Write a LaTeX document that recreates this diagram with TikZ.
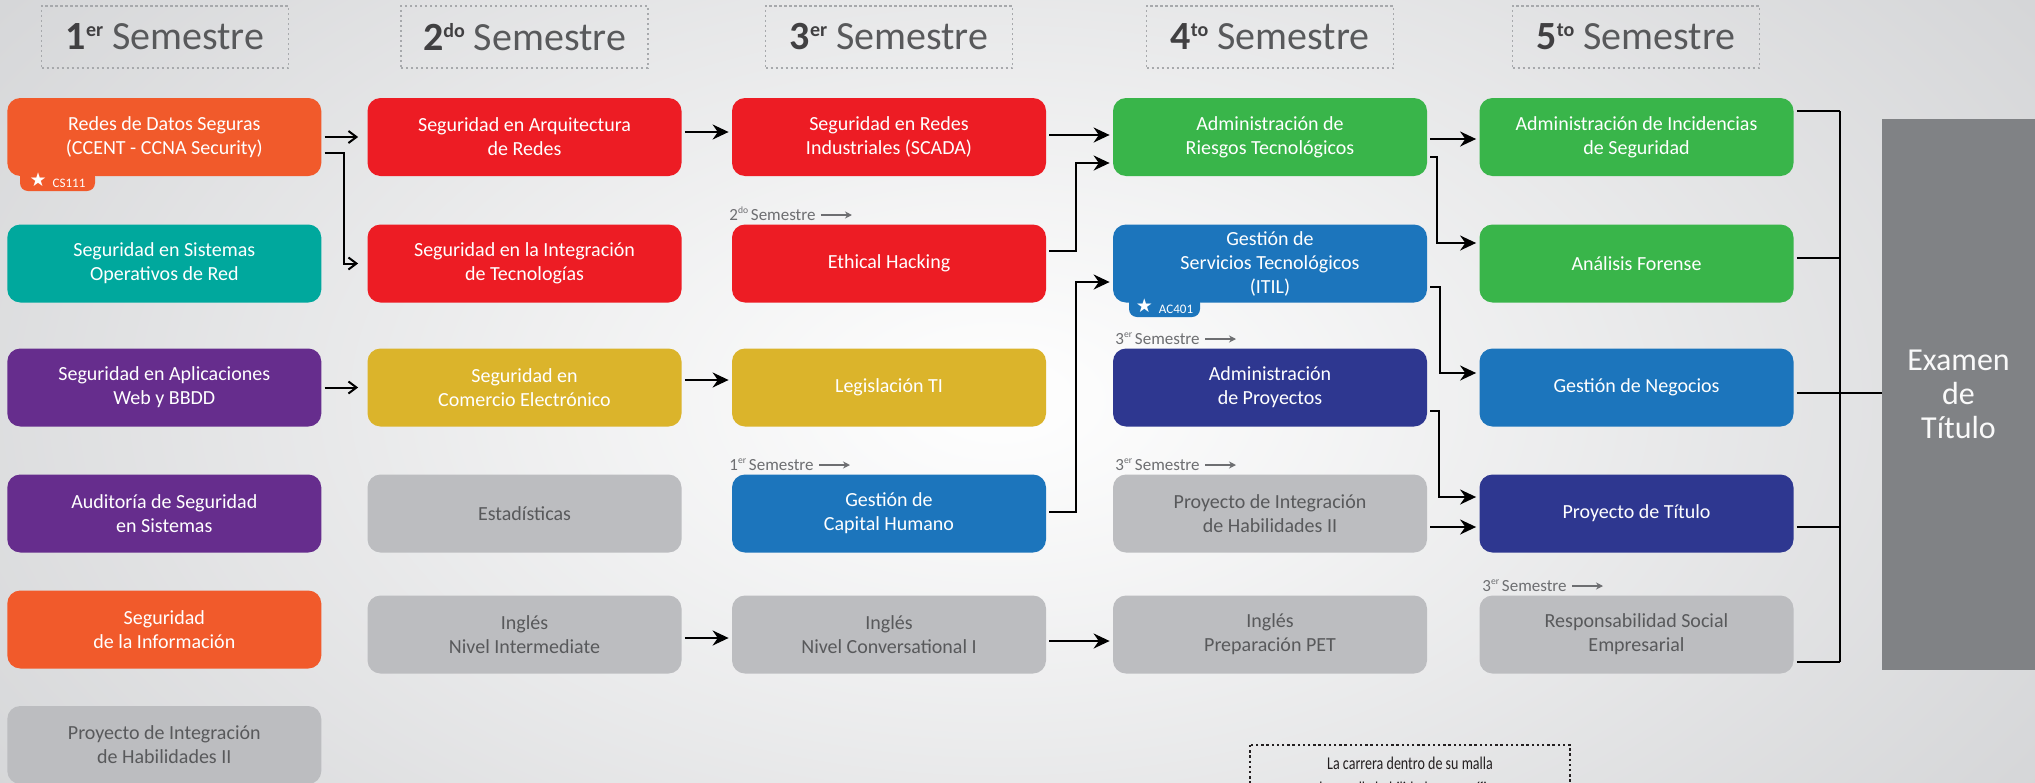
\documentclass[tikz,border=0pt]{standalone}
\usepackage{fontspec}
\setmainfont{Carlito}
\newfontfamily\dejavu{DejaVu Sans}
\newfontfamily\condfont[FakeStretch=0.78]{Carlito}
\usetikzlibrary{arrows.meta,calc}
\definecolor{bgout}{HTML}{D3D4D6}
\definecolor{corange}{HTML}{F15A2B}
\definecolor{cteal}{HTML}{00A89D}
\definecolor{cred}{HTML}{ED1C24}
\definecolor{cpurple}{HTML}{662D8D}
\definecolor{cgold}{HTML}{DBB42B}
\definecolor{cgray}{HTML}{BCBDC0}
\definecolor{cgreen}{HTML}{39B54A}
\definecolor{cblue}{HTML}{1C75BC}
\definecolor{cnavy}{HTML}{2E3790}
\definecolor{cexam}{HTML}{808285}
\definecolor{txtgray}{HTML}{58595B}
\definecolor{hdnum}{HTML}{414042}
\definecolor{dotgray}{HTML}{A7A9AC}
\definecolor{labgray}{HTML}{6D6E71}
\definecolor{notecol}{HTML}{231F20}
\newcommand\hsup[1]{\raisebox{6.5pt}{\fontsize{10}{10}\selectfont\bfseries #1}}
\newcommand\lsup[1]{\raisebox{3.6pt}{\fontsize{4.8}{5}\selectfont #1}}
\newcommand\hdr[2]{{\color{hdnum}\bfseries #1\hsup{#2}} {\color{txtgray}Semestre}}
\newcommand\starmark{\raisebox{0.6pt}{\dejavu\fontsize{9.5}{10}\selectfont ★}}
\begin{document}
\begin{tikzpicture}[x=0.5pt,y=-0.5pt,
  course/.style={rounded corners=6.5pt, minimum width=157pt, minimum height=39pt, inner sep=0pt, align=center, font=\fontsize{10}{12}\selectfont, text=white},
  greycourse/.style={course, fill=cgray, text=txtgray},
  hdrbox/.style={draw=dotgray, line width=0.7pt, dash pattern=on 1.1pt off 1.4pt, minimum width=123.5pt, minimum height=31pt, inner sep=0pt, font=\fontsize{20}{24}\selectfont},
  tagbox/.style={rounded corners=4pt, minimum width=37.5pt, minimum height=11pt, inner sep=0pt, text=white, font=\fontsize{6.5}{7}\selectfont},
  lab/.style={anchor=base west, inner sep=0pt, text=labgray, font=\fontsize{8.5}{10}\selectfont},
  labarr/.style={draw=labgray, line width=0.6pt, -{Stealth[length=3.5pt,width=3.5pt]}},
  link/.style={draw=black, line width=1pt},
  arr/.style={link, shorten <=1.5pt, shorten >=1.5pt, -{Stealth[length=8pt,width=7.5pt]}},
  arrs/.style={link, shorten <=1.5pt, shorten >=4.5pt, -{Straight Barb[length=4pt,width=6pt]}},
  notetext/.style={anchor=base, inner sep=0pt, text=notecol, font=\condfont\fontsize{9}{11}\selectfont},
]
\useasboundingbox (0,0) rectangle (2035,782);
% background
\fill[bgout] (0,0) rectangle (2035,782);
\begin{scope}
  \clip (0,0) rectangle (2035,782);
  \shade[inner color=white, outer color=bgout] (-300,-350) rectangle (2300,1150);
\end{scope}

% headers
\node[hdrbox] (h1) at (165,37) {\hdr{1}{er}};
\node[hdrbox] (h2) at (524.5,37) {\hdr{2}{do}};
\node[hdrbox] (h3) at (889,37) {\hdr{3}{er}};
\node[hdrbox] (h4) at (1270,37) {\hdr{4}{to}};
\node[hdrbox] (h5) at (1636,37) {\hdr{5}{to}};

% column 1
\node[course, fill=corange] (a1) at (164.3,137) {Redes de Datos Seguras\\(CCENT - CCNA Security)};
\node[tagbox, fill=corange] (t1) at (57.5,180) {\starmark\hspace{3pt}CS111};
\node[course, fill=cteal] (a2) at (164.3,263.5) {Seguridad en Sistemas\\Operativos de Red};
\node[course, fill=cpurple] (a3) at (164.3,387.5) {Seguridad en Aplicaciones\\Web y BBDD};
\node[course, fill=cpurple] (a4) at (164.3,513.5) {Auditoría de Seguridad\\en Sistemas};
\node[course, fill=corange] (a5) at (164.3,629.5) {Seguridad\\de la Información};
\node[greycourse] (a6) at (164.3,745) {Proyecto de Integración\\de Habilidades II};

% column 2
\node[course, fill=cred] (b1) at (524.5,137) {Seguridad en Arquitectura\\de Redes};
\node[course, fill=cred] (b2) at (524.5,263.5) {Seguridad en la Integración\\de Tecnologías};
\node[course, fill=cgold] (b3) at (524.5,387.5) {Seguridad en\\Comercio Electrónico};
\node[greycourse] (b4) at (524.5,513.5) {Estadísticas};
\node[greycourse] (b5) at (524.5,634.5) {Inglés\\Nivel Intermediate};

% column 3
\node[course, fill=cred] (c1) at (889,137) {Seguridad en Redes\\Industriales (SCADA)};
\node[course, fill=cred] (c2) at (889,263.5) {Ethical Hacking};
\node[course, fill=cgold] (c3) at (889,387.5) {Legislación TI};
\node[course, fill=cblue] (c4) at (889,513.5) {Gestión de\\Capital Humano};
\node[greycourse] (c5) at (889,634.5) {Inglés\\Nivel Conversational I};

% column 4
\node[course, fill=cgreen] (d1) at (1270,137) {Administración de\\Riesgos Tecnológicos};
\node[course, fill=cblue] (d2) at (1270,263.5) {Gestión de\\Servicios Tecnológicos\\(ITIL)};
\node[tagbox, fill=cblue, minimum width=35.5pt] (t2) at (1164.5,306) {\starmark\hspace{3pt}AC401};
\node[course, fill=cnavy] (d3) at (1270,387.5) {Administración\\de Proyectos};
\node[greycourse] (d4) at (1270,513.5) {Proyecto de Integración\\de Habilidades II};
\node[greycourse] (d5) at (1270,634.5) {Inglés\\Preparación PET};

% column 5
\node[course, fill=cgreen] (e1) at (1636.5,137) {Administración de Incidencias\\de Seguridad};
\node[course, fill=cgreen] (e2) at (1636.5,263.5) {Análisis Forense};
\node[course, fill=cblue] (e3) at (1636.5,387.5) {Gestión de Negocios};
\node[course, fill=cnavy] (e4) at (1636.5,513.5) {Proyecto de Título};
\node[greycourse] (e5) at (1636.5,634.5) {Responsabilidad Social\\Empresarial};

% examen
\node[fill=cexam, minimum width=76.5pt, minimum height=275.5pt, inner sep=0pt, align=center, text=white!95!gray, font=\fontsize{16}{17}\selectfont] (ex) at (1958.5,394.5) {Examen\\de\\Título};

% semester labels
\node[lab] (l1) at (729,220.5) {2\lsup{do}\,Semestre};
\draw[labarr] ($(l1.base east)+(5,-5.5)$) -- ++(31,0);
\node[lab] (l2) at (729,470.5) {1\lsup{er}\,Semestre};
\draw[labarr] ($(l2.base east)+(5,-5.5)$) -- ++(31,0);
\node[lab] (l3) at (1115,344.5) {3\lsup{er}\,Semestre};
\draw[labarr] ($(l3.base east)+(5,-5.5)$) -- ++(31,0);
\node[lab] (l4) at (1115,470.5) {3\lsup{er}\,Semestre};
\draw[labarr] ($(l4.base east)+(5,-5.5)$) -- ++(31,0);
\node[lab] (l5) at (1482,591.5) {3\lsup{er}\,Semestre};
\draw[labarr] ($(l5.base east)+(5,-5.5)$) -- ++(31,0);

% connector helper x positions
\coordinate (m1) at (344,0);
\coordinate (m3) at (1076,0);
\coordinate (m4a) at (1437,0);
\coordinate (m4b) at (1440,0);
\coordinate (m4c) at (1439,0);
\coordinate (bx) at (1840,0);

% col1 -> col2
\draw[arrs] (a1.east) -- (b1.west);
\coordinate (p1) at ($(a1.east)+(0,16)$);
\draw[arrs] (p1) -- (p1 -| m1) |- (b2.west);
\draw[arrs] (a3.east) -- (b3.west);

% col2 -> col3
\draw[arr] ($(b1.east)+(0,-5)$) -- ($(c1.west)+(0,-5)$);
\draw[arr] ($(b3.east)+(0,-7.5)$) -- ($(c3.west)+(0,-7.5)$);
\draw[arr] ($(b5.east)+(0,3.5)$) -- ($(c5.west)+(0,3.5)$);

% col3 -> col4
\draw[arr] ($(c1.east)+(0,-2)$) -- ($(d1.west)+(0,-2)$);
\coordinate (p8) at ($(c2.east)+(0,-13)$);
\coordinate (q8) at ($(d1.west)+(0,26)$);
\draw[arr] (p8) -- (p8 -| m3) |- (q8);
\coordinate (p9) at ($(c4.east)+(0,-1.5)$);
\coordinate (q9) at ($(d2.west)+(0,18.5)$);
\draw[arr] (p9) -- (p9 -| m3) |- (q9);
\draw[arr] ($(c5.east)+(0,6.5)$) -- ($(d5.west)+(0,6.5)$);

% col4 -> col5
\draw[arr] ($(d1.east)+(0,2)$) -- ($(e1.west)+(0,2)$);
\coordinate (p12) at ($(d1.east)+(0,20)$);
\coordinate (q12) at ($(e2.west)+(0,-20.5)$);
\draw[arr] (p12) -- (p12 -| m4a) |- (q12);
\coordinate (p13) at ($(d2.east)+(0,23.5)$);
\coordinate (q13) at ($(e3.west)+(0,-14.5)$);
\draw[arr] (p13) -- (p13 -| m4b) |- (q13);
\coordinate (p14) at ($(d3.east)+(0,23.5)$);
\coordinate (q14) at ($(e4.west)+(0,-16.5)$);
\draw[arr] (p14) -- (p14 -| m4c) |- (q14);
\coordinate (p15) at ($(d4.east)+(0,13.5)$);
\draw[arr] (p15) -- (p15 -| e4.west);

% bracket to examen
\coordinate (k1) at ($(e1.east)+(0,-26)$);
\coordinate (k2) at ($(e2.east)+(0,-5.5)$);
\coordinate (k3) at ($(e3.east)+(0,5.5)$);
\coordinate (k4) at ($(e4.east)+(0,13.5)$);
\coordinate (k5) at ($(e5.east)+(0,27.5)$);
\draw[link, shorten <=1.5pt] (k1) -- (k1 -| bx);
\draw[link, shorten <=1.5pt] (k2) -- (k2 -| bx);
\draw[link, shorten <=1.5pt] (k3) -- (k3 -| ex.west);
\draw[link, shorten <=1.5pt] (k4) -- (k4 -| bx);
\draw[link, shorten <=1.5pt] (k5) -- (k5 -| bx);
\draw[link] (k1 -| bx) -- (k5 -| bx);

% note
\draw[draw=notecol, line width=0.7pt, dash pattern=on 1.2pt off 1.4pt] (1250,745) rectangle (1570,840);
\node[notetext] (n1) at (1410,769) {La carrera dentro de su malla};
\node[notetext] (n2) at (1410,794) {desarrolla habilidades específicas};
\end{tikzpicture}
\end{document}
